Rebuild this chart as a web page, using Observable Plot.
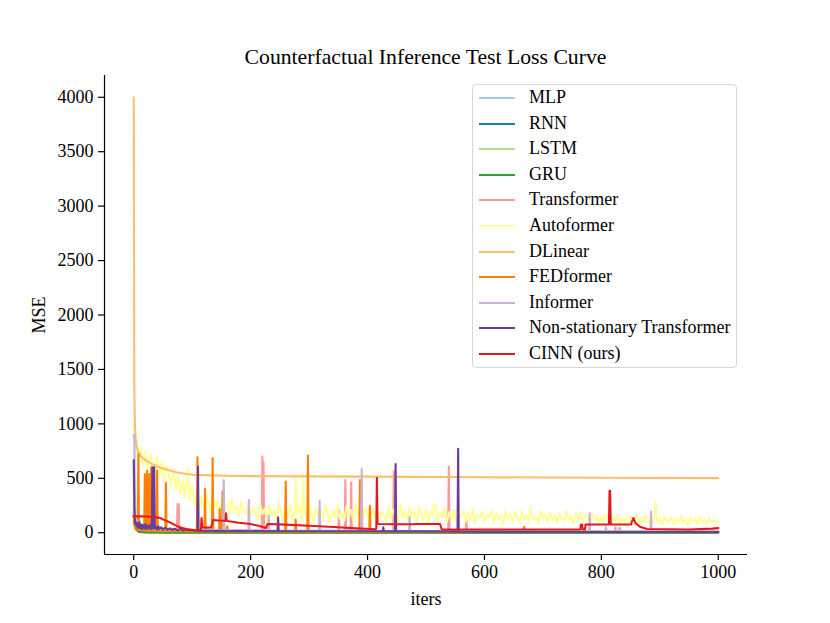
<!DOCTYPE html>
<html>
<head>
<meta charset="utf-8">
<script src="https://cdn.jsdelivr.net/npm/d3@7"></script>
<script src="https://cdn.jsdelivr.net/npm/@observablehq/plot@0.6"></script>
<style>
  html, body { margin: 0; padding: 0; background: #fff; }
  #wrap { position: relative; width: 830px; height: 623px; font-family: "Liberation Serif", "Times New Roman", serif; }
  #title { position: absolute; left: 0; width: 851px; top: 44px; text-align: center; font-size: 21.7px; line-height: 26px; color: #000; }
  #legend { position: absolute; left: 472px; top: 84px; width: 265px; height: 284px; box-sizing: border-box;
            border: 1px solid #d6d6d6; border-radius: 4px; background: rgba(255,255,255,0.85); padding-top: 0px; }
  .row { position: relative; height: 25.6px; }
  .sw { position: absolute; left: 6px; top: 12px; width: 36px; height: 0; border-top-width: 2px; border-top-style: solid; }
  .lb { position: absolute; left: 56px; top: 0; line-height: 25.6px; font-size: 18px; color: #000; white-space: nowrap; }
</style>
</head>
<body>
<div id="wrap">
  <div id="chart"></div>
  <div id="title">Counterfactual Inference Test Loss Curve</div>
  <div id="legend"></div>
</div>
<script>
// ---- model names and colours (legend order) ----
const models = ["MLP", "RNN", "LSTM", "GRU", "Transformer", "Autoformer", "DLinear", "FEDformer", "Informer", "Non-stationary Transformer", "CINN (ours)"];
const colors = ["#a6cee3", "#1f78b4", "#b2df8a", "#33a02c", "#fb9a99", "#ffff99", "#fdbf6f", "#ff7f00", "#cab2d6", "#6a3d9a", "#e31a1c"];

// ---- axis ticks ----
const xTicks = [0, 200, 400, 600, 800, 1000];
const yTicks = [0, 500, 1000, 1500, 2000, 2500, 3000, 3500, 4000];

// ---- series: [iter, MSE] ----
const mlp  = [[0,250],[1,120],[3,60],[6,30],[10,15],[20,8],[50,6],[100,5],[300,4],[1000,3]];
const rnn  = [[0,180],[1,90],[3,40],[6,20],[10,10],[30,5],[100,4],[1000,3]];
const lstm = [[0,160],[2,70],[4,30],[8,12],[15,6],[50,3],[1000,2]];
const gru  = [[0,150],[2,60],[5,25],[9,8],[20,3],[60,1],[1000,0]];

const transformer = [[0,200],[2,80],[5,50],[10,40],[18,36],[19,36],[20,524],[21,36],[40,30],[74,28],[75,264],[76,150],[77,264],[78,28],[100,25],
  [219,20],[220,699],[221,480],[222,647],[223,20],[350,18],[351,208],[352,18],[361,18],[362,484],[363,18],[371,18],[372,463],[373,18],
  [444,15],[445,564],[446,15],[538,15],[539,607],[540,15],[568,15],[569,135],[570,15],[807,12],[808,50],[809,12],[823,12],[824,50],[825,12],
  [830,12],[831,45],[832,12],[1000,10]];

// Autoformer: one value every 4 iterations (rows of 40 iterations), plus isolated spikes
const autoformerVals = [
  1000, 820, 690, 780, 610, 740, 580, 720, 640, 560,
  700, 520, 650, 470, 610, 540, 430, 580, 400, 520,
  360, 480, 330, 590, 300, 430, 260, 380, 240, 330,
  210, 350, 260, 190, 320, 230, 290, 170, 300, 220,
  260, 180, 310, 200, 240, 160, 280, 210, 170, 260,
  150, 240, 190, 120, 260, 170, 220, 110, 250, 160,
  210, 130, 270, 180, 100, 230, 150, 250, 120, 200,
  170, 240, 110, 220, 140, 260, 180, 100, 230, 150,
  200, 120, 250, 170, 90, 220, 140, 260, 130, 190,
  110, 240, 160, 210, 100, 270, 150, 200, 120, 230,
  170, 90, 220, 140, 250, 110, 190, 160, 100, 240,
  130, 210, 170, 90, 260, 140, 200, 110, 230, 150,
  190, 100, 240, 160, 120, 220, 90, 200, 150, 250,
  110, 180, 140, 230, 100, 190, 130, 210, 90, 170,
  140, 200, 100, 180, 120, 220, 90, 160, 130, 190,
  100, 170, 140, 210, 90, 180, 120, 160, 80, 200,
  130, 170, 100, 190, 140, 90, 210, 120, 160, 100,
  180, 120, 150, 90, 200, 130, 170, 100, 190, 110,
  160, 90, 180, 130, 110, 200, 120, 150, 85, 170,
  120, 190, 100, 160, 130, 90, 180, 110, 150, 95,
  140, 100, 170, 120, 80, 150, 110, 160, 90, 130,
  100, 150, 75, 140, 110, 170, 90, 130, 100, 160,
  85, 140, 110, 160, 90, 130, 75, 150, 100, 120,
  140, 80, 130, 100, 155, 90, 120, 70, 140, 105,
  125, 80, 145, 95, 115, 75, 135, 100, 120, 90,
  110];
const autoformerStep = 4;
const autoformerSpikes = [[277,500],[290,540],[513,260],[679,240],[892,285]];

const dlinear = [[0,4000],[1,1300],[2,1000],[3,880],[5,790],[8,740],[12,700],[22,660],[32,630],[45,600],[60,575],[73,555],[90,540],
  [102,533],[130,527],[160,524],[200,520],[300,518],[400,515],[600,510],[800,505],[1000,502]];

const fedformer = [[0,150],[2,60],[4,30],[7,25],[8,723],[9,25],[18,20],[19,540],[20,20],[22,20],[23,570],[24,20],[26,20],[27,540],[28,18],
  [29,18],[30,600],[31,18],[39,15],[40,570],[41,15],[54,15],[55,457],[56,15],[108,12],[109,693],[110,12],[121,12],[122,401],[123,12],
  [134,12],[135,687],[136,12],[146,12],[147,218],[148,12],[151,12],[152,380],[153,12],[159,10],[160,60],[161,10],[259,10],[260,469],[261,10],
  [276,10],[277,120],[278,10],[297,10],[298,708],[299,10],[386,10],[387,484],[388,10],[403,10],[404,248],[405,10],[667,8],[668,55],[669,8],[1000,8]];

const informer = [[0,900],[1,870],[2,400],[3,180],[4,120],[6,90],[9,70],[14,55],[20,48],[30,40],[50,35],[80,30],[100,28],
  [153,25],[154,484],[155,25],[196,22],[197,300],[198,22],[230,20],[231,156],[232,20],[317,18],[318,294],[319,18],[389,18],[390,586],[391,18],
  [471,15],[472,147],[473,15],[779,12],[780,178],[781,12],[807,12],[808,40],[809,12],[831,12],[832,40],[833,12],[884,12],[885,196],[886,12],[1000,10]];

const nonstationary = [[0,668],[1,250],[2,110],[3,80],[4,95],[5,60],[6,90],[7,45],[8,80],[9,55],[10,95],[11,40],[13,75],[14,35],[16,70],[18,40],
  [20,80],[22,35],[24,65],[26,40],[28,70],[30,35],[31,40],[32,600],[33,45],[34,40],[35,600],[36,40],[38,55],[40,30],[42,60],[44,35],[47,50],
  [50,30],[54,45],[58,28],[62,40],[66,25],[70,38],[75,22],[80,35],[85,20],[90,30],[95,20],[100,25],[105,18],[109,20],[110,607],[111,15],
  [115,20],[120,16],[130,18],[140,15],[150,17],[160,14],[180,16],[200,14],[220,15],[246,14],[247,141],[248,14],[270,14],[300,14],[350,13],
  [400,13],[426,13],[427,49],[428,13],[447,12],[448,631],[449,12],[500,12],[554,10],[555,770],[556,10],[600,8],[700,7],[800,7],[900,6],[1000,6]];

const cinn = [[0,150],[10,150],[20,149],[31,147],[40,140],[45,135],[52,118],[62,95],[70,72],[79,49],[90,35],[102,25],[109,18],[112,15],
  [115,20],[116,135],[117,60],[118,49],[125,47],[132,49],[134,80],[136,117],[145,112],[157,110],[158,178],[159,110],[160,108],[180,92],
  [200,80],[215,62],[226,43],[229,80],[260,74],[300,64],[350,50],[380,40],[405,34],[414,32],[415,40],[416,503],[417,90],[419,80],
  [450,78],[479,78],[481,80],[524,80],[527,30],[600,30],[700,30],[764,30],[765,76],[767,76],[768,30],[772,30],[773,76],[813,76],
  [814,386],[815,386],[816,76],[851,76],[852,100],[855,135],[858,90],[866,55],[878,34],[950,30],[990,38],[1000,42]];

// ---- assemble ----
const autoformer = autoformerVals.map((v, i) => [i * autoformerStep, v]).concat(autoformerSpikes).sort((a, b) => a[0] - b[0]);
const seriesPoints = [mlp, rnn, lstm, gru, transformer, autoformer, dlinear, fedformer, informer, nonstationary, cinn];
const data = seriesPoints.flatMap((pts, k) =>
  pts.slice().sort((a, b) => a[0] - b[0]).map(([iter, mse]) => ({model: models[k], iter, mse})));

const xDomain = [-50, 1050];
const yDomain = [-200, 4200];

const chart = Plot.plot({
  width: 830,
  height: 623,
  marginLeft: 104,
  marginRight: 83,
  marginTop: 75,
  marginBottom: 69,
  style: {fontFamily: "'Liberation Serif', 'Times New Roman', serif", fontSize: "18px", background: "white", color: "black"},
  x: {domain: xDomain},
  y: {domain: yDomain},
  color: {domain: models, range: colors},
  marks: [
    Plot.line(data, {x: "iter", y: "mse", z: "model", stroke: "model", strokeWidth: 2.1, clip: true}),
    Plot.ruleX([xDomain[0]], {stroke: "black", strokeWidth: 1.2}),
    Plot.ruleY([yDomain[0]], {stroke: "black", strokeWidth: 1.2}),
    Plot.axisX({ticks: xTicks, tickFormat: d3.format("d"), tickSize: 6, tickPadding: 5, strokeWidth: 1.2,
                label: "iters", labelAnchor: "center", labelOffset: 50, labelArrow: "none", fontSize: 18}),
    Plot.axisY({ticks: yTicks, tickFormat: d3.format("d"), tickSize: 6, tickPadding: 5, strokeWidth: 1.2,
                label: "MSE", labelAnchor: "center", labelOffset: 72, labelArrow: "none", fontSize: 18})
  ]
});
document.getElementById("chart").appendChild(chart);

// ---- legend ----
const legend = document.getElementById("legend");
models.forEach((m, i) => {
  const row = document.createElement("div");
  row.className = "row";
  const sw = document.createElement("div");
  sw.className = "sw";
  sw.style.borderTopColor = colors[i];
  const lb = document.createElement("div");
  lb.className = "lb";
  lb.textContent = m;
  row.appendChild(sw);
  row.appendChild(lb);
  legend.appendChild(row);
});
</script>
</body>
</html>
